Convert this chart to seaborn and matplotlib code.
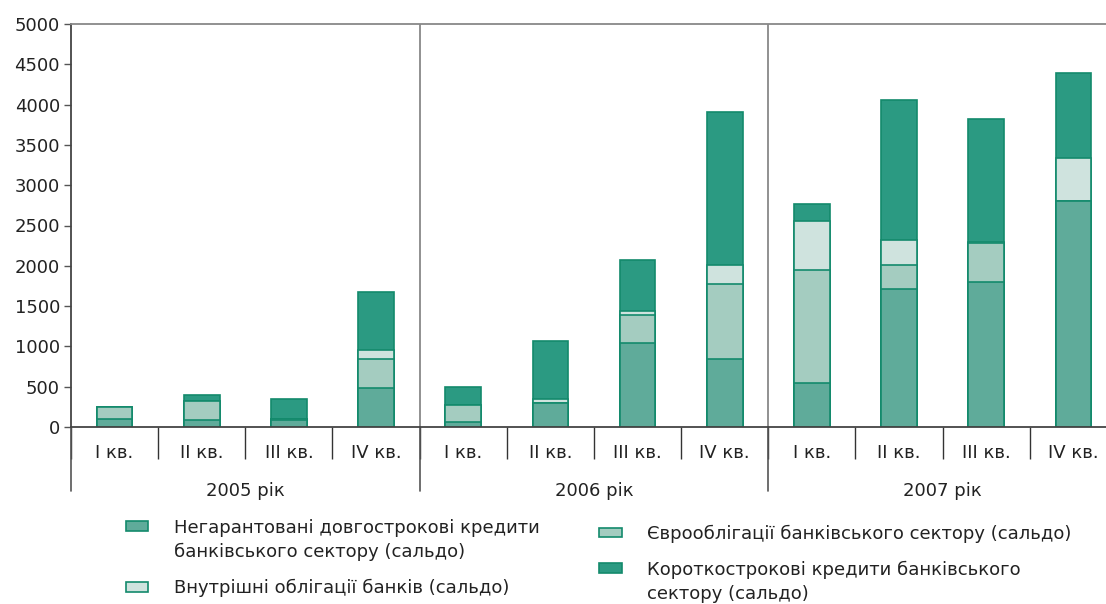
import matplotlib
matplotlib.use("Agg")
import matplotlib.pyplot as plt
import matplotlib.patches as mpatches
from matplotlib.legend_handler import HandlerPatch
import numpy as np
import pandas as pd
import seaborn as sns

years = ['2005 рік', '2006 рік', '2007 рік']
quarters = ['І кв.', 'ІІ кв.', 'ІІІ кв.', 'ІV кв.']

# млн дол. США, по кварталах 2005-2007
nonguaranteed = [100, 90, 90, 490, 60, 300, 1040, 840, 540, 1710, 1800, 2800]
eurobonds = [150, 230, 10, 350, 210, 0, 350, 940, 1410, 300, 480, 0]
domestic = [0, 0, 0, 120, 0, 50, 50, 230, 610, 310, 20, 540]
shortterm = [0, 80, 250, 720, 230, 720, 630, 1900, 210, 1740, 1520, 1050]

labels = ['Негарантовані довгострокові кредити\nбанківського сектору (сальдо)',
          'Єврооблігації банківського сектору (сальдо)',
          'Внутрішні облігації банків (сальдо)',
          'Короткострокові кредити банківського\nсектору (сальдо)']
colors = ['#5fab9a', '#a4ccc0', '#cfe3de', '#2b9a82']
edge = '#138a6c'

sns.set_style('white')
plt.rcParams['font.family'] = ['DejaVu Sans']
plt.rcParams['font.size'] = 13

cats = [f'{y[:4]} {q}' for y in years for q in quarters]
df = pd.DataFrame({'cat': cats, 'a': nonguaranteed, 'b': eurobonds,
                   'c': domestic, 'd': shortterm})
df['l1'] = df['a']
df['l2'] = df['l1'] + df['b']
df['l3'] = df['l2'] + df['c']
df['l4'] = df['l3'] + df['d']

fig = plt.figure(figsize=(11.06, 6.04), dpi=100)
ax = fig.add_axes([71 / 1106, 1 - 427 / 604, 1046 / 1106, 403 / 604])

# stacked bars: draw cumulative totals from the top down
for col, c in zip(['l4', 'l3', 'l2', 'l1'], colors[::-1]):
    sns.barplot(data=df, x='cat', y=col, order=cats, color=c, width=0.41,
                edgecolor=edge, linewidth=1.2, saturation=1, ax=ax)

ax.set_xlim(-0.5, 11.5)
ax.set_ylim(0, 5000)
ax.set_yticks(np.arange(0, 5001, 500))
ax.set_xlabel('')
ax.set_ylabel('')

ax.set_xticks(range(12))
ax.set_xticklabels(quarters * 3)
ax.set_xticks(np.arange(-0.5, 12, 1), minor=True)
ax.tick_params(axis='x', which='major', length=0, pad=12, labelsize=13, colors='#222222')
ax.tick_params(axis='x', which='minor', length=23, width=1.0, color='#333333',
               direction='out', bottom=True)
ax.tick_params(axis='y', length=5, width=1.0, color='#555555', labelsize=13,
               colors='#222222', left=True, pad=3)

for s in ['left', 'bottom']:
    ax.spines[s].set_color('#444444')
    ax.spines[s].set_linewidth(1.3)
ax.spines['top'].set_color('#888888')
ax.spines['top'].set_linewidth(1.3)
ax.spines['right'].set_visible(False)

# year separators through plot and below the axis
trans = ax.get_xaxis_transform()
for xb in [3.5, 7.5]:
    ax.axvline(xb, color='#888888', lw=1.3)
for xb in [-0.5, 3.5, 7.5]:
    ax.plot([xb, xb], [0, -0.158], transform=trans, color='#555555', lw=1.2, clip_on=False)

for i, y in enumerate(years):
    ax.text(4 * i + 1.5, -0.16, y, transform=trans, ha='center', va='center',
            fontsize=13, color='#222222')


# legend swatch sits by the first line of a two-line label
def swatch(legend, orig_handle, xdescent, ydescent, width, height, fontsize):
    shift = 10.5 if '\n' in orig_handle.get_label() else 0
    return mpatches.Rectangle((-xdescent, -ydescent + shift), width, height)


handles = [mpatches.Patch(facecolor=colors[i], edgecolor=edge, linewidth=1.2, label=labels[i])
           for i in range(4)]
leg_kw = dict(loc='upper left', frameon=False, fontsize=13, handlelength=1.25,
              handleheight=0.45, handletextpad=1.4, labelspacing=1.0,
              handler_map={mpatches.Patch: HandlerPatch(patch_func=swatch)})
leg1 = fig.legend(handles=[handles[0], handles[2]], bbox_to_anchor=(0.099, 0.168), **leg_kw)
leg2 = fig.legend(handles=[handles[1], handles[3]], bbox_to_anchor=(0.527, 0.158), **leg_kw)
for leg in [leg1, leg2]:
    for t in leg.get_texts():
        t.set_color('#222222')
        t.set_linespacing(1.42)

fig.savefig('out.png', dpi=100)
